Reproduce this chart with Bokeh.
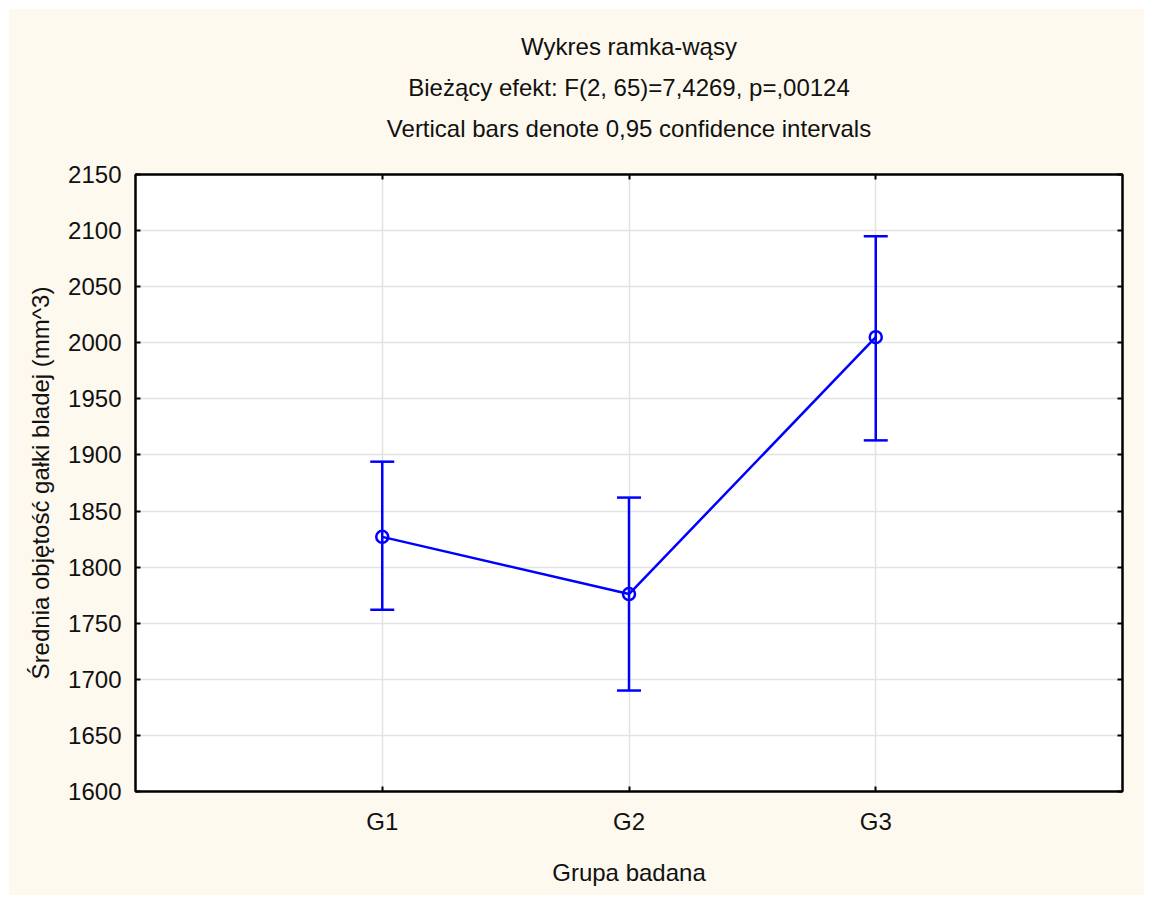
from bokeh.plotting import figure
from bokeh.models import (ColumnDataSource, Whisker, TeeHead, LinearAxis, FixedTicker,
                          Title, Range1d, Spacer)
from bokeh.layouts import column, row
from bokeh.embed import file_html
from bokeh.resources import INLINE

# ---- data ----
groups = ["G1", "G2", "G3"]
group_pos = [1, 2, 3]
means = [1827, 1776, 2005]
lower = [1762, 1690, 1913]
upper = [1894, 1862, 2095]
y_ticks = [1600, 1650, 1700, 1750, 1800, 1850, 1900, 1950, 2000, 2050, 2100, 2150]

title_lines = ["Wykres ramka-wąsy",
               "Bieżący efekt: F(2, 65)=7,4269, p=,00124",
               "Vertical bars denote 0,95 confidence intervals"]
x_label = "Grupa badana"
y_label = "Średnia objętość gałki bladej (mm^3)"

FONT = "Liberation Sans"
BG = "#FEF9EE"
BLUE = "#0000FF"

src = ColumnDataSource(dict(x=group_pos, mean=means, lower=lower, upper=upper))

p = figure(width=1136, height=887, output_backend="svg", toolbar_location=None,
           x_range=Range1d(0, 4), y_range=Range1d(1600, 2150),
           min_border_left=127, min_border_right=22, min_border_top=166,
           min_border_bottom=104, x_axis_label=x_label, y_axis_label=y_label)

p.border_fill_color = BG
p.background_fill_color = "white"
p.outline_line_color = "black"
p.outline_line_width = 2

# grids
p.xgrid.ticker = FixedTicker(ticks=group_pos)
p.ygrid.ticker = FixedTicker(ticks=y_ticks)
for g in (p.xgrid, p.ygrid):
    g.grid_line_color = "#E3E3E3"
    g.grid_line_width = 1.5

# bottom axis
xa = p.xaxis[0]
xa.ticker = FixedTicker(ticks=group_pos)
xa.major_label_overrides = {pos: g for pos, g in zip(group_pos, groups)}
# left axis
ya = p.yaxis[0]
ya.ticker = FixedTicker(ticks=y_ticks)

for ax in (xa, ya):
    ax.axis_line_color = "black"
    ax.axis_line_width = 2
    ax.major_tick_in = 5
    ax.major_tick_out = 0
    ax.major_tick_line_width = 2
    ax.minor_tick_line_color = None
    ax.major_label_text_font = FONT
    ax.major_label_text_font_size = "24px"
    ax.major_label_text_color = "#111111"
    ax.axis_label_text_font = FONT
    ax.axis_label_text_font_size = "24px"
    ax.axis_label_text_font_style = "normal"
    ax.axis_label_text_color = "#111111"

xa.major_label_standoff = 16
xa.axis_label_standoff = 21
ya.major_label_standoff = 14
ya.axis_label_standoff = 11

# right axis (ticks only, no labels)
ra = LinearAxis(ticker=FixedTicker(ticks=y_ticks),
                major_label_overrides={t: "" for t in y_ticks},
                major_label_text_color=None,
                major_label_standoff=0, major_tick_in=5, major_tick_out=0,
                major_tick_line_width=2, minor_tick_line_color=None,
                axis_line_color="black", axis_line_width=2)
p.add_layout(ra, "right")
# top axis (ticks only, no labels)
ta = LinearAxis(ticker=FixedTicker(ticks=group_pos),
                major_label_overrides={t: "" for t in group_pos},
                major_label_text_color=None,
                major_label_standoff=0, major_tick_in=5, major_tick_out=0,
                major_tick_line_width=2, minor_tick_line_color=None,
                axis_line_color="black", axis_line_width=2)
p.add_layout(ta, "above")
# invisible spacer axis: reserves the gap between frame and titles
gap = LinearAxis(ticker=FixedTicker(ticks=group_pos),
                 major_label_overrides={t: "" for t in group_pos},
                 major_label_text_color=None,
                 major_label_standoff=0, major_tick_in=0, major_tick_out=27,
                 major_tick_line_color=None, minor_tick_line_color=None,
                 axis_line_color=None)
p.add_layout(gap, "above")

# titles (added bottom-up)
for t in reversed(title_lines):
    p.add_layout(Title(text=t, align="center", text_font=FONT, text_font_size="24px",
                       text_font_style="normal", text_color="#111111",
                       standoff=12), "above")

# data glyphs
w = Whisker(source=src, base="x", upper="upper", lower="lower",
            line_color=BLUE, line_width=2.5,
            upper_head=TeeHead(size=24, line_color=BLUE, line_width=2.5),
            lower_head=TeeHead(size=24, line_color=BLUE, line_width=2.5))
p.add_layout(w)
p.line("x", "mean", source=src, line_color=BLUE, line_width=2.5)
p.scatter("x", "mean", source=src, marker="circle", size=12, fill_color=None,
          line_color=BLUE, line_width=2.5)

page = column(Spacer(height=8, width=1144), row(Spacer(width=8, height=887), p))

open("out.html", "w").write(file_html(page, INLINE))
